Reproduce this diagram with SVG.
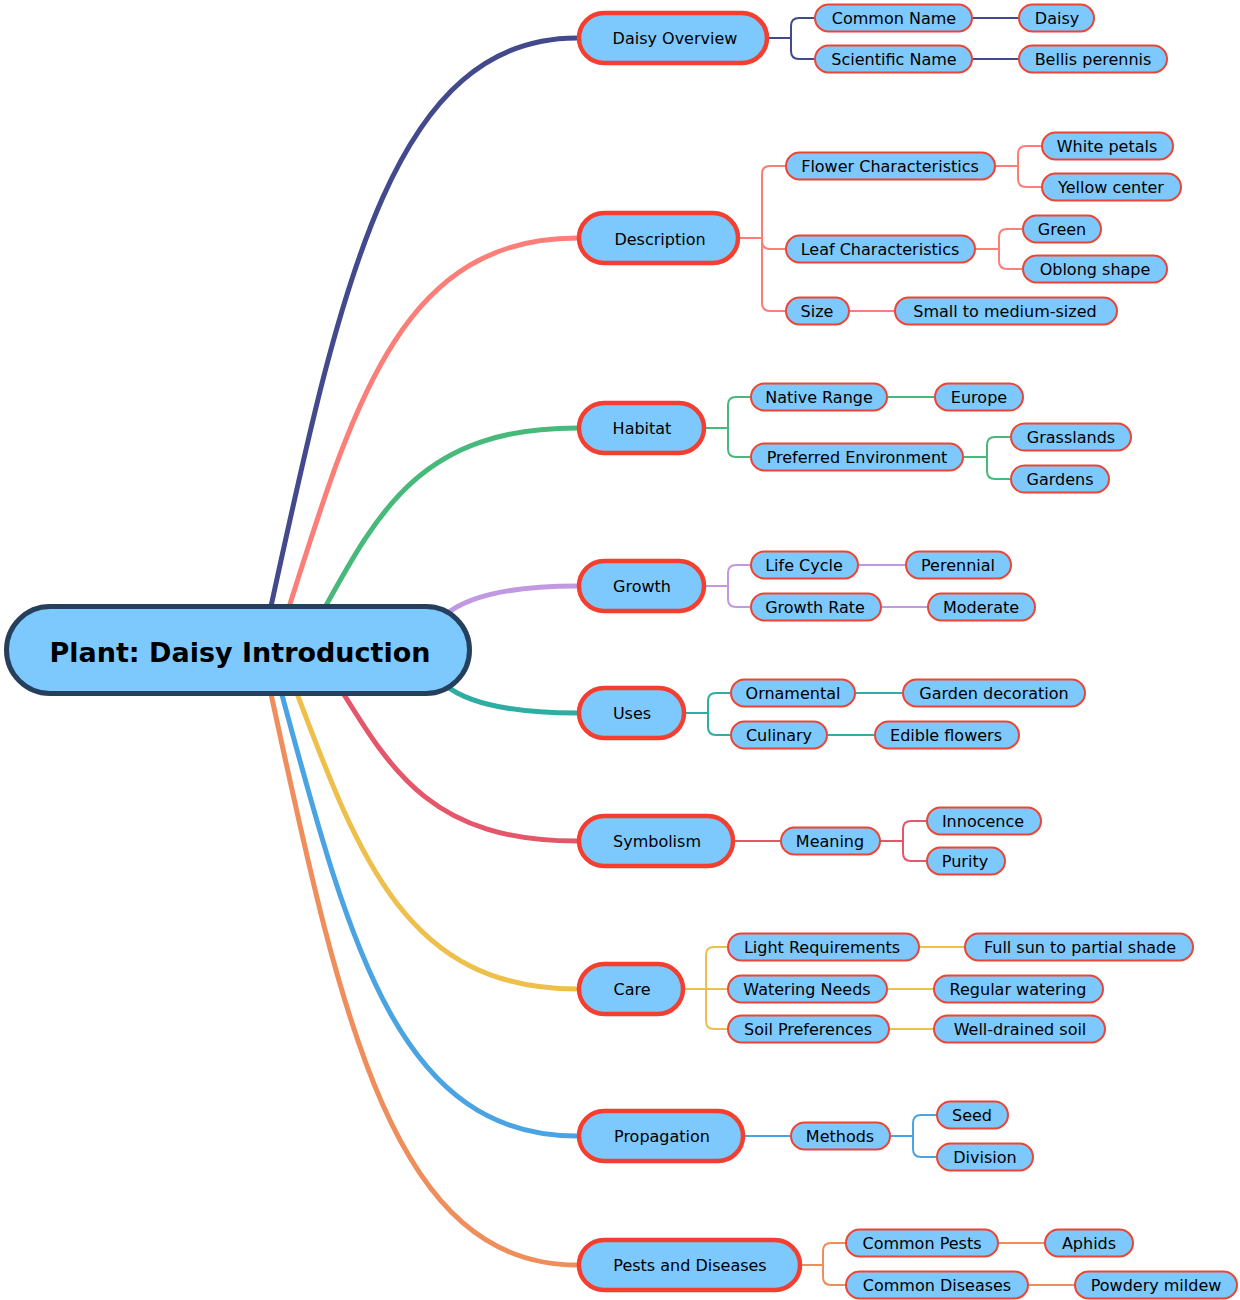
<svg xmlns="http://www.w3.org/2000/svg" width="1240" height="1300" viewBox="0 0 1240 1300">
<style>
text{font-family:"DejaVu Sans","Verdana",sans-serif;font-size:16px;fill:#000;text-anchor:middle}
.root rect{fill:#7dc8fd;stroke:#253f5d;stroke-width:5}
.root text{font-size:27px;font-weight:bold}
.br rect{fill:#7dc8fd;stroke:#f43f30;stroke-width:4.5}
.lf rect{fill:#7dc8fd;stroke:#ee4434;stroke-width:2}
.main{fill:none;stroke-width:5;stroke-linecap:round}
.sub{fill:none;stroke-width:2}
.c1{stroke:#424a8d}.c2{stroke:#fb7e78}.c3{stroke:#47b97b}.c4{stroke:#c199e1}.c5{stroke:#2eaea2}.c6{stroke:#e4566a}.c7{stroke:#eebf4b}.c8{stroke:#4aa4e3}.c9{stroke:#ef8d5b}
</style>
<rect width="1240" height="1300" fill="#fff"/>
<g id="connectors">
<path class="main c1" d="M268,620 C340,290 390,38 577,38"/>
<path class="main c2" d="M285,620 C353,405 400,238 577,238"/>
<path class="main c3" d="M318,620 C378,511 420,428 577,428"/>
<path class="main c4" d="M445,615 Q480,586 577,586"/>
<path class="main c5" d="M445,685 Q480,713 577,713"/>
<path class="main c6" d="M335,680 C391,771 431,841 577,841"/>
<path class="main c7" d="M292,680 C358,856 405,989 577,989"/>
<path class="main c8" d="M278,680 C348,939 396,1136 577,1136"/>
<path class="main c9" d="M268,680 C340,1012 390,1265 577,1265"/>
<!-- Daisy Overview -->
<path class="sub c1" d="M769,38 H791 V26 Q791,18 799,18 H814"/>
<path class="sub c1" d="M769,38 H791 V51 Q791,59 799,59 H814"/>
<path class="sub c1" d="M973,18 H1018"/>
<path class="sub c1" d="M973,59 H1018"/>
<!-- Description -->
<path class="sub c2" d="M740,238 H762 V174 Q762,166 770,166 H785"/>
<path class="sub c2" d="M740,238 H762 V241 Q762,249 770,249 H785"/>
<path class="sub c2" d="M740,238 H762 V303 Q762,311 770,311 H785"/>
<path class="sub c2" d="M996,166 H1018 V154 Q1018,146 1026,146 H1041"/>
<path class="sub c2" d="M996,166 H1018 V179 Q1018,187 1026,187 H1041"/>
<path class="sub c2" d="M976,249 H999 V237 Q999,229 1007,229 H1022"/>
<path class="sub c2" d="M976,249 H999 V261 Q999,269 1007,269 H1022"/>
<path class="sub c2" d="M850,311 H894"/>
<!-- Habitat -->
<path class="sub c3" d="M706,428 H728 V405 Q728,397 736,397 H750"/>
<path class="sub c3" d="M706,428 H728 V449 Q728,457 736,457 H750"/>
<path class="sub c3" d="M888,397 H934"/>
<path class="sub c3" d="M964,457 H987 V445 Q987,437 995,437 H1010"/>
<path class="sub c3" d="M964,457 H987 V471 Q987,479 995,479 H1010"/>
<!-- Growth -->
<path class="sub c4" d="M706,586 H728 V573 Q728,565 736,565 H750"/>
<path class="sub c4" d="M706,586 H728 V599 Q728,607 736,607 H750"/>
<path class="sub c4" d="M859,565 H905"/>
<path class="sub c4" d="M882,607 H927"/>
<!-- Uses -->
<path class="sub c5" d="M686,713 H708 V701 Q708,693 716,693 H730"/>
<path class="sub c5" d="M686,713 H708 V727 Q708,735 716,735 H730"/>
<path class="sub c5" d="M856,693 H902"/>
<path class="sub c5" d="M828,735 H874"/>
<!-- Symbolism -->
<path class="sub c6" d="M735,841 H780"/>
<path class="sub c6" d="M881,841 H903 V829 Q903,821 911,821 H926"/>
<path class="sub c6" d="M881,841 H903 V853 Q903,861 911,861 H926"/>
<!-- Care -->
<path class="sub c7" d="M685,989 H706 V955 Q706,947 714,947 H727"/>
<path class="sub c7" d="M685,989 H727"/>
<path class="sub c7" d="M685,989 H706 V1021 Q706,1029 714,1029 H727"/>
<path class="sub c7" d="M920,947 H964"/>
<path class="sub c7" d="M888,989 H933"/>
<path class="sub c7" d="M890,1029 H933"/>
<!-- Propagation -->
<path class="sub c8" d="M745,1136 H790"/>
<path class="sub c8" d="M891,1136 H913 V1123 Q913,1115 921,1115 H936"/>
<path class="sub c8" d="M891,1136 H913 V1149 Q913,1157 921,1157 H936"/>
<!-- Pests -->
<path class="sub c9" d="M802,1265 H823 V1251 Q823,1243 831,1243 H845"/>
<path class="sub c9" d="M802,1265 H823 V1277 Q823,1285 831,1285 H845"/>
<path class="sub c9" d="M999,1243 H1044"/>
<path class="sub c9" d="M1029,1285 H1074"/>
</g>
<g id="root" class="root"><rect x="6.5" y="606.5" width="463" height="87" rx="43.5"/><text x="240" y="662">Plant: Daisy Introduction</text></g>
<g id="n-overview" class="br"><rect x="579" y="13" width="188" height="50" rx="25"/><text x="675" y="44">Daisy Overview</text></g>
<g id="n-description" class="br"><rect x="579" y="213" width="159" height="50" rx="25"/><text x="660" y="245">Description</text></g>
<g id="n-habitat" class="br"><rect x="579" y="403" width="125" height="50" rx="25"/><text x="642" y="434">Habitat</text></g>
<g id="n-growth" class="br"><rect x="579" y="561" width="125" height="50" rx="25"/><text x="642" y="592">Growth</text></g>
<g id="n-uses" class="br"><rect x="579" y="688" width="105" height="50" rx="25"/><text x="632" y="719">Uses</text></g>
<g id="n-symbolism" class="br"><rect x="579" y="816" width="154" height="50" rx="25"/><text x="657" y="847">Symbolism</text></g>
<g id="n-care" class="br"><rect x="579" y="964" width="104" height="50" rx="25"/><text x="632" y="995">Care</text></g>
<g id="n-propagation" class="br"><rect x="579" y="1111" width="164" height="50" rx="25"/><text x="662" y="1142">Propagation</text></g>
<g id="n-pests" class="br"><rect x="579" y="1240" width="221" height="50" rx="25"/><text x="690" y="1271">Pests and Diseases</text></g>
<g id="l-common-name" class="lf"><rect x="815" y="4.5" width="157" height="27" rx="13.5"/><text x="894" y="24">Common Name</text></g>
<g id="l-daisy" class="lf"><rect x="1019" y="4.5" width="75" height="27" rx="13.5"/><text x="1057" y="24">Daisy</text></g>
<g id="l-scientific-name" class="lf"><rect x="815" y="45.5" width="157" height="27" rx="13.5"/><text x="894" y="65">Scientific Name</text></g>
<g id="l-bellis" class="lf"><rect x="1019" y="45.5" width="148" height="27" rx="13.5"/><text x="1093" y="65">Bellis perennis</text></g>
<g id="l-flower" class="lf"><rect x="786" y="152.5" width="209" height="27" rx="13.5"/><text x="890" y="172">Flower Characteristics</text></g>
<g id="l-white" class="lf"><rect x="1042" y="132.5" width="131" height="27" rx="13.5"/><text x="1107" y="152">White petals</text></g>
<g id="l-yellow" class="lf"><rect x="1042" y="173.5" width="139" height="27" rx="13.5"/><text x="1111" y="193">Yellow center</text></g>
<g id="l-leaf" class="lf"><rect x="786" y="235.5" width="189" height="27" rx="13.5"/><text x="880" y="255">Leaf Characteristics</text></g>
<g id="l-green" class="lf"><rect x="1023" y="215.5" width="78" height="27" rx="13.5"/><text x="1062" y="235">Green</text></g>
<g id="l-oblong" class="lf"><rect x="1023" y="255.5" width="144" height="27" rx="13.5"/><text x="1095" y="275">Oblong shape</text></g>
<g id="l-size" class="lf"><rect x="786" y="297.5" width="63" height="27" rx="13.5"/><text x="817" y="317">Size</text></g>
<g id="l-small" class="lf"><rect x="895" y="297.5" width="222" height="27" rx="13.5"/><text x="1005" y="317">Small to medium-sized</text></g>
<g id="l-native" class="lf"><rect x="751" y="383.5" width="136" height="27" rx="13.5"/><text x="819" y="403">Native Range</text></g>
<g id="l-europe" class="lf"><rect x="935" y="383.5" width="88" height="27" rx="13.5"/><text x="979" y="403">Europe</text></g>
<g id="l-preferred" class="lf"><rect x="751" y="443.5" width="212" height="27" rx="13.5"/><text x="857" y="463">Preferred Environment</text></g>
<g id="l-grasslands" class="lf"><rect x="1011" y="423.5" width="120" height="27" rx="13.5"/><text x="1071" y="443">Grasslands</text></g>
<g id="l-gardens" class="lf"><rect x="1011" y="465.5" width="98" height="27" rx="13.5"/><text x="1060" y="485">Gardens</text></g>
<g id="l-lifecycle" class="lf"><rect x="751" y="551.5" width="107" height="27" rx="13.5"/><text x="804" y="571">Life Cycle</text></g>
<g id="l-perennial" class="lf"><rect x="906" y="551.5" width="105" height="27" rx="13.5"/><text x="958" y="571">Perennial</text></g>
<g id="l-growthrate" class="lf"><rect x="751" y="593.5" width="130" height="27" rx="13.5"/><text x="815" y="613">Growth Rate</text></g>
<g id="l-moderate" class="lf"><rect x="928" y="593.5" width="107" height="27" rx="13.5"/><text x="981" y="613">Moderate</text></g>
<g id="l-ornamental" class="lf"><rect x="731" y="679.5" width="124" height="27" rx="13.5"/><text x="793" y="699">Ornamental</text></g>
<g id="l-garden-decoration" class="lf"><rect x="903" y="679.5" width="182" height="27" rx="13.5"/><text x="994" y="699">Garden decoration</text></g>
<g id="l-culinary" class="lf"><rect x="731" y="721.5" width="96" height="27" rx="13.5"/><text x="779" y="741">Culinary</text></g>
<g id="l-edible" class="lf"><rect x="875" y="721.5" width="144" height="27" rx="13.5"/><text x="946" y="741">Edible flowers</text></g>
<g id="l-meaning" class="lf"><rect x="781" y="827.5" width="99" height="27" rx="13.5"/><text x="830" y="847">Meaning</text></g>
<g id="l-innocence" class="lf"><rect x="927" y="807.5" width="114" height="27" rx="13.5"/><text x="983" y="827">Innocence</text></g>
<g id="l-purity" class="lf"><rect x="927" y="847.5" width="78" height="27" rx="13.5"/><text x="965" y="867">Purity</text></g>
<g id="l-light" class="lf"><rect x="728" y="933.5" width="191" height="27" rx="13.5"/><text x="822" y="953">Light Requirements</text></g>
<g id="l-fullsun" class="lf"><rect x="965" y="933.5" width="228" height="27" rx="13.5"/><text x="1080" y="953">Full sun to partial shade</text></g>
<g id="l-watering" class="lf"><rect x="728" y="975.5" width="159" height="27" rx="13.5"/><text x="807" y="995">Watering Needs</text></g>
<g id="l-regular" class="lf"><rect x="934" y="975.5" width="169" height="27" rx="13.5"/><text x="1018" y="995">Regular watering</text></g>
<g id="l-soil" class="lf"><rect x="728" y="1015.5" width="161" height="27" rx="13.5"/><text x="808" y="1035">Soil Preferences</text></g>
<g id="l-welldrained" class="lf"><rect x="934" y="1015.5" width="171" height="27" rx="13.5"/><text x="1020" y="1035">Well-drained soil</text></g>
<g id="l-methods" class="lf"><rect x="791" y="1122.5" width="99" height="27" rx="13.5"/><text x="840" y="1142">Methods</text></g>
<g id="l-seed" class="lf"><rect x="937" y="1101.5" width="71" height="27" rx="13.5"/><text x="972" y="1121">Seed</text></g>
<g id="l-division" class="lf"><rect x="937" y="1143.5" width="96" height="27" rx="13.5"/><text x="985" y="1163">Division</text></g>
<g id="l-common-pests" class="lf"><rect x="846" y="1229.5" width="152" height="27" rx="13.5"/><text x="922" y="1249">Common Pests</text></g>
<g id="l-aphids" class="lf"><rect x="1045" y="1229.5" width="88" height="27" rx="13.5"/><text x="1089" y="1249">Aphids</text></g>
<g id="l-common-diseases" class="lf"><rect x="846" y="1271.5" width="182" height="27" rx="13.5"/><text x="937" y="1291">Common Diseases</text></g>
<g id="l-powdery" class="lf"><rect x="1075" y="1271.5" width="162" height="27" rx="13.5"/><text x="1156" y="1291">Powdery mildew</text></g>
</svg>
